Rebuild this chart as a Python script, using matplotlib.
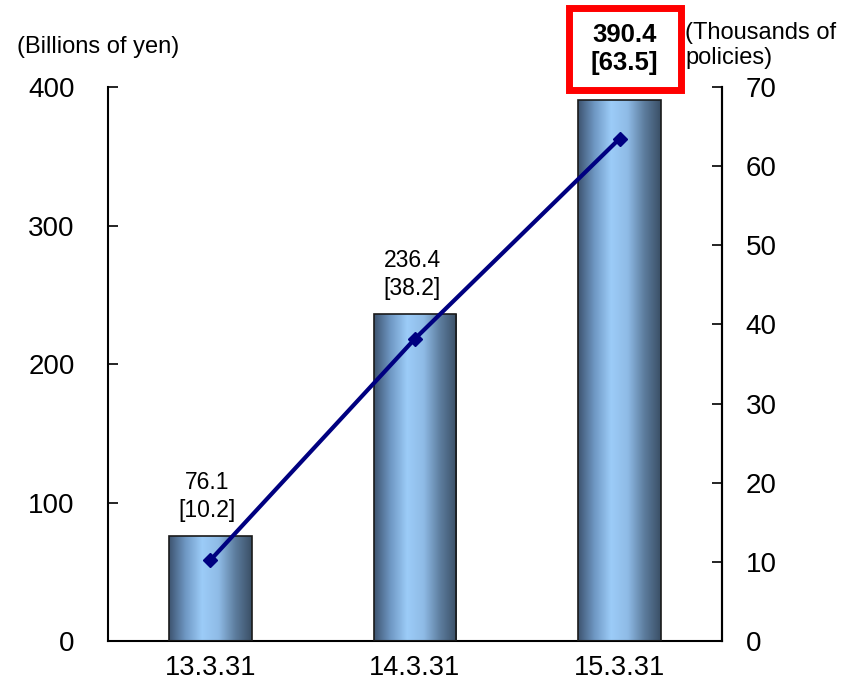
import numpy as np
import matplotlib.pyplot as plt
from matplotlib.colors import LinearSegmentedColormap
from matplotlib.patches import Rectangle

plt.rcParams['font.family'] = ['Liberation Sans', 'DejaVu Sans']

dates = ["13.3.31", "14.3.31", "15.3.31"]
amounts = [76.1, 236.4, 390.4]      # billions of yen
policies = [10.2, 38.2, 63.5]       # thousands of policies

fig = plt.figure(figsize=(8.43, 6.86), dpi=100)
ax = fig.add_axes([0.128, 0.0656, 0.7285, 0.8074])
x = np.arange(len(dates))

bars = ax.bar(x, amounts, width=0.405, color='none', edgecolor='#1a1a1a',
              linewidth=1.2, zorder=3)

# horizontal shading inside each bar: dark edges, light centre
cmap = LinearSegmentedColormap.from_list(
    'barshade', ['#3d5470', '#6f98c4', '#9cccf8', '#8fbbe6', '#5d7d9e', '#3a4f66'])
grad = np.linspace(0, 1, 256).reshape(1, -1)
for b in bars:
    x0, w, h = b.get_x(), b.get_width(), b.get_height()
    im = ax.imshow(grad, cmap=cmap, aspect='auto', extent=(x0, x0 + w, 0, h),
                   zorder=2, interpolation='bicubic')
    im.set_clip_path(b)

ax.set_xlim(-0.5, 2.5)
ax.set_ylim(0, 400)
ax.set_yticks([0, 100, 200, 300, 400])
ax.set_xticks(x)
ax.set_xticklabels(dates)
ax.tick_params(axis='y', direction='in', length=7, width=1.2, labelsize=20, pad=24)
ax.tick_params(axis='x', length=0, labelsize=19.5, pad=10)
for s in ['left', 'bottom', 'right']:
    ax.spines[s].set_linewidth(1.5)
ax.spines['top'].set_visible(False)

ax2 = ax.twinx()
ax2.set_ylim(0, 70)
ax2.set_yticks(range(0, 71, 10))
ax2.tick_params(axis='y', direction='in', length=7, width=1.2, labelsize=20, pad=17)
for s in ['top', 'left', 'bottom']:
    ax2.spines[s].set_visible(False)
ax2.spines['right'].set_linewidth(1.5)
ax2.plot(x, policies, color='#000080', linewidth=3, marker='D', markersize=7,
         zorder=4)

# value labels: amount on top, policy count in brackets
for i in range(2):
    ax.annotate(f"{amounts[i]}\n[{policies[i]}]", (x[i], amounts[i]),
                xytext=(-2, 10), textcoords='offset points',
                ha='center', va='bottom', fontsize=16.5, linespacing=1.25,
                bbox=dict(facecolor='white', edgecolor='none', pad=3),
                zorder=5, annotation_clip=False)

# highlighted latest value
fig.patches.append(Rectangle((0.6745, 0.8695), 0.1335, 0.1195, transform=fig.transFigure,
                             facecolor='white', edgecolor='#ff0000', linewidth=5,
                             figure=fig))
fig.text(0.741, 0.929, f"{amounts[2]}\n[{policies[2]}]", ha='center', va='center',
         fontsize=18.5, fontweight='bold', linespacing=1.2)

fig.text(0.02, 0.932, "(Billions of yen)", fontsize=17, ha='left', va='center')
fig.text(0.813, 0.934, "(Thousands of\npolicies)", fontsize=17, ha='left',
         va='center', linespacing=1.15)

fig.savefig("out.png", dpi=100)
